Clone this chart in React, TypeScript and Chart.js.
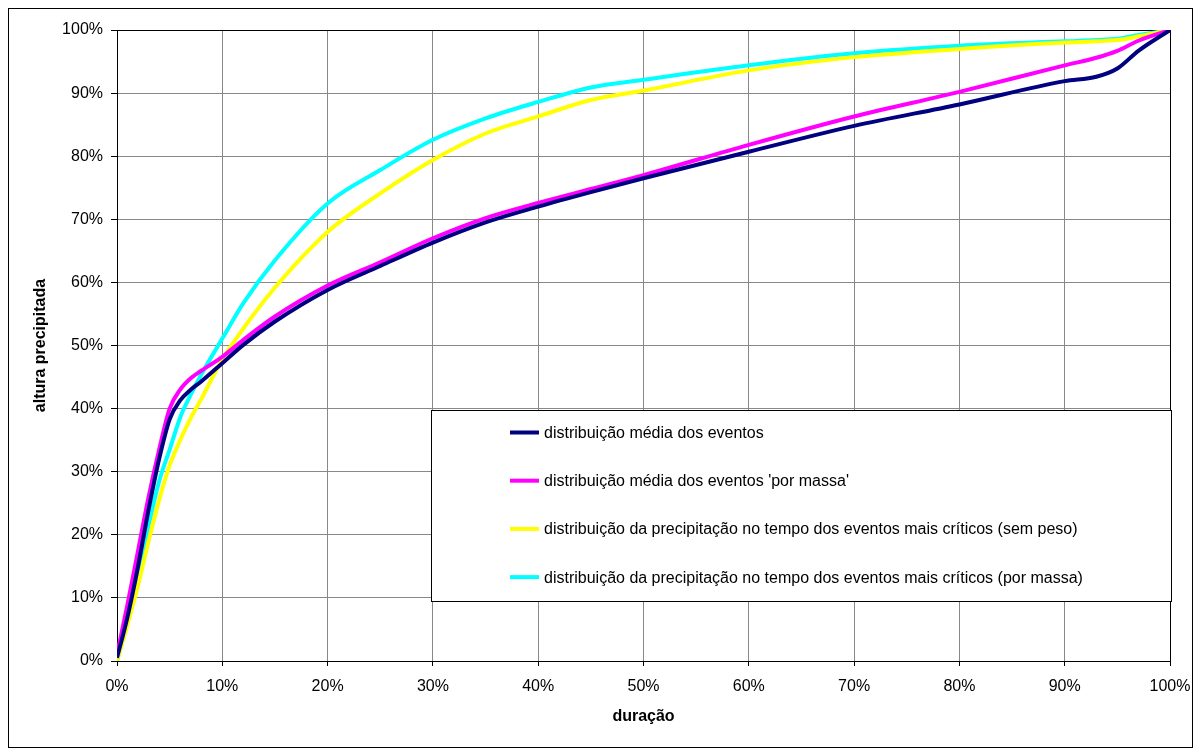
import React, { useEffect, useRef } from "react";
import { Chart, registerables } from "chart.js";

Chart.register(...registerables);

// duração (% of event duration)
const duracao = [0, 1, 2, 3, 4, 5, 6, 7, 8, 10, 12, 15, 20, 25, 30, 35, 40, 45, 50, 60, 70, 80, 90, 93, 95, 97, 100];

// altura precipitada acumulada (%)
const mediaEventos = [0.5, 7, 15, 24, 32, 38.3, 41.3, 43, 44.3, 47.2, 50.1, 53.8, 58.8, 62.6, 66.3, 69.5, 72.0, 74.3, 76.5, 80.7, 84.8, 88.2, 91.9, 92.6, 93.9, 96.7, 100];
const mediaPorMassa = [1, 9, 17.5, 26, 33.5, 40, 43, 44.8, 46, 48.2, 50.9, 54.6, 59.5, 63.2, 67.0, 70.2, 72.6, 74.8, 77.0, 81.8, 86.3, 90.2, 94.4, 95.6, 96.7, 98.3, 100];
const criticosSemPeso = [0, 5.8, 12, 19, 25.5, 31, 35, 38.5, 41.5, 47.8, 52.7, 59.2, 68, 74.1, 79.4, 83.6, 86.3, 88.9, 90.4, 93.6, 95.7, 97.0, 98.0, 98.2, 98.4, 99, 100];
const criticosPorMassa = [0, 6.5, 13.5, 21.5, 28.5, 33.5, 38.6, 42.2, 45.4, 51.1, 56.7, 63.5, 72.5, 77.8, 82.6, 86, 88.6, 90.9, 92.1, 94.4, 96.3, 97.5, 98.2, 98.4, 98.6, 99.2, 100];

const seriesLabels = [
  "distribuição média dos eventos",
  "distribuição média dos eventos 'por massa'",
  "distribuição da precipitação no tempo dos eventos mais críticos (sem peso)",
  "distribuição da precipitação no tempo dos eventos mais críticos (por massa)",
];
const seriesValues = [mediaEventos, mediaPorMassa, criticosSemPeso, criticosPorMassa];
const seriesColors = ["#000080", "#FF00FF", "#FFFF00", "#00FFFF"];

const axisMin = 0;
const axisMax = 100;
const axisStep = 10;

const FONT = '"Liberation Sans", Arial, sans-serif';

// Black frame around the plotting area
const plotFrame = {
  id: "plotFrame",
  beforeDatasetsDraw(chart: any) {
    const { ctx, chartArea } = chart;
    ctx.save();
    ctx.strokeStyle = "#000";
    ctx.lineWidth = 1;
    ctx.strokeRect(
      Math.round(chartArea.left) + 0.5,
      Math.round(chartArea.top) + 0.5,
      Math.round(chartArea.right - chartArea.left),
      Math.round(chartArea.bottom - chartArea.top)
    );
    ctx.restore();
  },
};

// Boxed legend drawn inside the plotting area
const boxedLegend = {
  id: "boxedLegend",
  afterDatasetsDraw(chart: any) {
    const { ctx, chartArea } = chart;
    const x0 = Math.round(chartArea.left) + 314;
    const y0 = Math.round(chartArea.top) + 380;
    const w = 740;
    const h = 191;
    ctx.save();
    ctx.fillStyle = "#fff";
    ctx.fillRect(x0, y0, w, h);
    ctx.strokeStyle = "#000";
    ctx.lineWidth = 1;
    ctx.strokeRect(x0 + 0.5, y0 + 0.5, w, h);
    ctx.font = `16px ${FONT}`;
    ctx.textBaseline = "middle";
    ctx.textAlign = "left";
    chart.data.datasets.forEach((ds: any, i: number) => {
      const y = y0 + 22.5 + i * 48.2;
      ctx.strokeStyle = ds.borderColor;
      ctx.lineWidth = 4;
      ctx.beginPath();
      ctx.moveTo(x0 + 79, y);
      ctx.lineTo(x0 + 108, y);
      ctx.stroke();
      ctx.fillStyle = "#000";
      ctx.fillText(ds.label, x0 + 113, y + 1);
    });
    ctx.restore();
  },
};

export default function App() {
  const canvasRef = useRef<HTMLCanvasElement | null>(null);

  useEffect(() => {
    if (!canvasRef.current) return;
    const datasets = seriesValues.map((vals, i) => ({
      label: seriesLabels[i],
      data: duracao.map((x, j) => ({ x, y: vals[j] })),
      borderColor: seriesColors[i],
      backgroundColor: seriesColors[i],
      borderWidth: 4,
      pointRadius: 0,
      pointHoverRadius: 0,
      showLine: true,
      fill: false,
      cubicInterpolationMode: "monotone" as const,
    }));

    const pct = (v: any) => `${v}%`;

    const chart = new Chart(canvasRef.current, {
      type: "scatter",
      data: { datasets },
      options: {
        animation: false,
        responsive: false,
        events: [],
        layout: { padding: { top: 21, right: 22, bottom: 0, left: 0 } },
        plugins: {
          legend: { display: false },
          tooltip: { enabled: false },
        },
        scales: {
          x: {
            type: "linear",
            min: axisMin,
            max: axisMax,
            afterFit: (s: any) => {
              s.height = 86;
              s.paddingLeft = 0;
              s.paddingRight = 0;
            },
            ticks: {
              stepSize: axisStep,
              callback: pct,
              color: "#000",
              padding: 11,
              maxRotation: 0,
              font: { family: FONT, size: 16 },
            },
            grid: { color: "#888", tickColor: "#000", tickLength: 5, lineWidth: 1 },
            border: { color: "#000", width: 1 },
            title: {
              display: true,
              text: "duração",
              color: "#000",
              font: { family: FONT, size: 16, weight: "bold" },
              padding: { top: 0, bottom: 21 },
            },
          },
          y: {
            type: "linear",
            min: axisMin,
            max: axisMax,
            afterFit: (s: any) => {
              s.width = 108;
              s.paddingTop = 0;
              s.paddingBottom = 0;
            },
            ticks: {
              stepSize: axisStep,
              callback: pct,
              color: "#000",
              padding: 8,
              font: { family: FONT, size: 16 },
            },
            grid: { color: "#888", tickColor: "#000", tickLength: 6, lineWidth: 1 },
            border: { color: "#000", width: 1 },
            title: {
              display: true,
              text: "altura precipitada",
              color: "#000",
              font: { family: FONT, size: 16, weight: "bold" },
              padding: { top: 22, bottom: 0 },
            },
          },
        },
      },
      plugins: [plotFrame, boxedLegend],
    });
    return () => chart.destroy();
  }, []);

  return (
    <div style={{ border: "1px solid #000", width: 1183, height: 738, background: "#fff" }}>
      <canvas ref={canvasRef} width={1183} height={738} style={{ display: "block" }} />
    </div>
  );
}
